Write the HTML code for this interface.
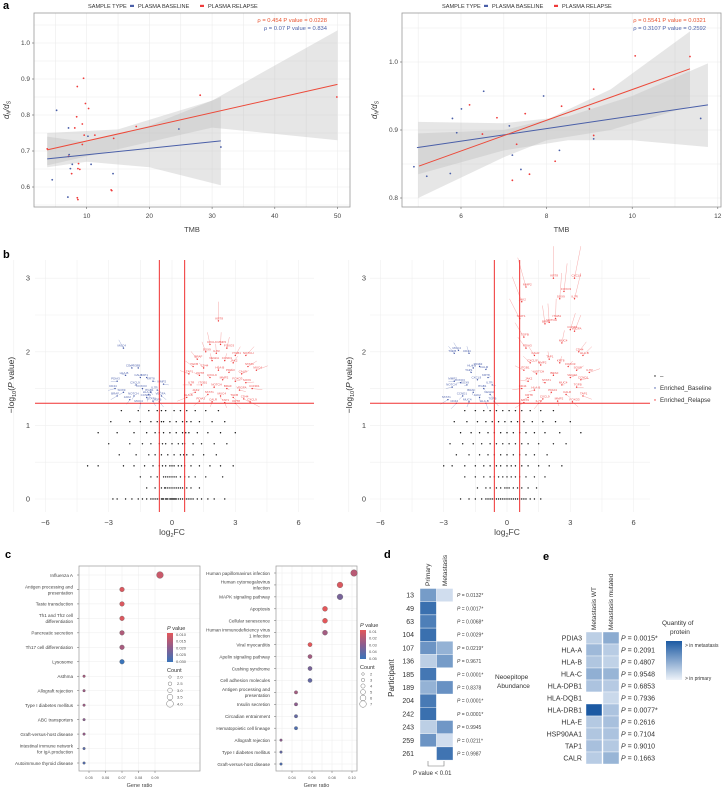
<!DOCTYPE html>
<html><head><meta charset="utf-8">
<style>
html,body{margin:0;padding:0;background:#fff;}
svg{display:block;font-family:"Liberation Sans",sans-serif;}
</style></head>
<body>
<svg id="fig" width="722" height="789" viewBox="0 0 722 789" xmlns="http://www.w3.org/2000/svg"></svg>
<script>
// ---------- DATA ----------
// panel a left
const aLRedTMB=[9.5,8.5,9.8,10.3,8.4,9.3,8.1,9.6,11.3,9.3,3.7,17.9,28.1,49.9,14.3,8.7,8.6,8.9,7.6,14,8.6,7.1,8.5,13.9];
const aLRedVal=[0.902,0.879,0.832,0.818,0.795,0.775,0.764,0.744,0.744,0.718,0.706,0.768,0.855,0.85,0.735,0.665,0.651,0.649,0.637,0.59,0.565,0.685,0.57,0.592];
const aLBlueTMB=[5.2,7.1,24.7,31.4,10.2,7.2,7.7,10.7,4.5,14.2,7.4,7.0];
const aLBlueVal=[0.813,0.764,0.761,0.711,0.741,0.69,0.663,0.663,0.62,0.637,0.651,0.572];
const aLRedLine=[[3.7,0.703],[50,0.885]];
const aLBlueLine=[[3.7,0.678],[31.4,0.728]];
const aLRedBandX=[3.7,15,30,50], aLRedBandHi=[0.75,0.76,0.84,1.035], aLRedBandLo=[0.66,0.705,0.765,0.73];
const aLBlueBandX=[3.7,10,20,31.4], aLBlueBandHi=[0.74,0.725,0.77,0.85], aLBlueBandLo=[0.655,0.67,0.655,0.605];
// panel a right
const aRRedTMB=[10.07,11.35,9.1,6.2,6.84,8.35,7.5,9.0,6.5,7.3,9.1,8.2,7.6,7.2];
const aRRedVal=[1.009,1.008,0.96,0.937,0.918,0.935,0.924,0.931,0.894,0.879,0.892,0.854,0.835,0.826];
const aRBlueTMB=[6.53,7.93,5.8,6.01,5.9,7.13,7.2,7.4,5.75,5.2,4.9,8.3,9.1,11.6];
const aRBlueVal=[0.957,0.95,0.917,0.931,0.896,0.906,0.863,0.842,0.836,0.832,0.846,0.87,0.887,0.917];
const aRRedLine=[[5.02,0.847],[11.35,0.99]];
const aRBlueLine=[[4.97,0.874],[11.77,0.937]];
const aRRedBandX=[5,7,8,9.5,11.35], aRRedBandHi=[0.895,0.9,0.915,0.96,1.045], aRRedBandLo=[0.80,0.86,0.885,0.9,0.935];
const aRBlueBandX=[5,7,8.5,10,11.77], aRBlueBandHi=[0.912,0.91,0.92,0.95,0.998], aRBlueBandLo=[0.835,0.87,0.885,0.885,0.875];
// panel b volcano
const blackRowY=[0,0.15,0.3,0.45,0.6,0.75,0.9,1.05,1.2];
const blackRowXL=[
[-2.8,-2.6,-2.2,-1.9,-1.6,-1.4,-1.2,-1.0,-0.9,-0.8,-0.7,-0.6,-0.5,-0.45,-0.4,-0.3,-0.25,-0.2,-0.1,-0.05,0,0.05,0.1,0.15,0.2,0.3,0.4,0.5,0.6,0.7,0.8,0.9,1.0,1.2,1.4,1.7,2.0,2.5],
[-1.2,-0.8,-0.5,-0.35,-0.3,-0.2,-0.1,0,0.1,0.2,0.3,0.4,0.5,0.7,0.9,1.3],
[-1.5,-1.0,-0.7,-0.4,-0.3,-0.2,-0.1,0,0.1,0.2,0.4,0.6,0.8,1.1,1.6,2.4],
[-4.0,-3.5,-2.3,-1.8,-1.3,-0.9,-0.6,-0.45,-0.3,-0.1,0,0.1,0.3,0.45,0.6,0.9,1.3,1.8,2.3,2.9],
[-2.5,-1.7,-1.1,-0.8,-0.5,-0.2,0.1,0.4,0.55,0.7,1.0,1.5,2.1],
[-3.0,-2.0,-1.4,-1.0,-0.6,-0.45,-0.3,0,0.3,0.5,0.6,1.0,1.4,2.0,2.6],
[-3.5,-2.6,-1.8,-1.2,-0.8,-0.6,-0.4,-0.1,0.2,0.5,0.65,0.8,1.2,1.7,2.3,3.0],
[-2.9,-2.0,-1.5,-1.0,-0.7,-0.5,-0.4,-0.1,0.2,0.5,0.7,0.9,1.3,1.9,2.5],
[-2.4,-1.6,-1.1,-0.7,-0.5,-0.3,0.1,0.4,0.7,1.1,1.6,2.2]];
const blackRowXR=[
[-2.2,-1.8,-1.5,-1.2,-1.0,-0.9,-0.8,-0.7,-0.6,-0.5,-0.4,-0.3,-0.2,-0.1,0,0.1,0.2,0.3,0.4,0.5,0.6,0.7,0.8,0.9,1.1,1.3,1.6],
[-1.4,-1.0,-0.8,-0.5,-0.3,-0.1,0,0.1,0.3,0.5,0.7,1.0,1.4],
[-2.0,-1.5,-1.1,-0.8,-0.6,-0.4,-0.2,0,0.2,0.4,0.6,0.9,1.3,1.8],
[-3.0,-2.6,-2.0,-1.5,-1.1,-0.8,-0.5,-0.3,0,0.2,0.4,0.7,1.0,1.5,2.0,2.6],
[-2.4,-1.8,-1.3,-0.9,-0.6,-0.3,0,0.3,0.6,0.9,1.3,1.9],
[-2.7,-2.1,-1.6,-1.2,-0.8,-0.5,-0.2,0.1,0.4,0.7,1.0,1.5,2.2,2.8],
[-2.2,-1.7,-1.3,-0.9,-0.6,-0.3,0,0.3,0.6,0.9,1.3,1.8,2.5,3.5],
[-2.5,-1.9,-1.4,-1.0,-0.7,-0.4,-0.1,0.2,0.5,0.8,1.2,1.7,2.3,3.0],
[-2.0,-1.5,-1.1,-0.8,-0.5,-0.2,0.1,0.4,0.7,1.1,1.6,2.2]];
const blueLX=[-2.3,-1.6,-1.9,-2.2,-2.6,-1.5,-1.2,-0.9,-1.7,-0.4,-1.4,-2.3,-0.7,-1.0,-1.8,-2.6,-0.5,-1.2,-2.0,-0.9,-1.5,-0.6,-2.7,-1.1];
const blueLY=[2.05,1.78,1.78,1.68,1.6,1.65,1.65,1.6,1.55,1.56,1.5,1.45,1.48,1.45,1.4,1.4,1.4,1.38,1.35,1.33,1.3,1.32,1.5,1.42];
const redLX=[2.2,1.8,2.3,2.6,1.6,2.1,3.0,3.5,1.2,1.9,2.5,2.9,3.6,4.0,1.0,1.5,2.2,2.7,3.3,0.8,1.3,1.8,2.4,3.0,3.5,0.9,1.4,2.0,2.6,3.2,3.8,1.1,1.7,2.3,2.9,3.4,0.7,1.3,1.9,2.5,3.0,3.7];
const redLY=[2.42,2.1,2.1,2.05,2.0,1.98,1.95,1.95,1.9,1.88,1.88,1.85,1.8,1.75,1.8,1.78,1.75,1.72,1.7,1.7,1.68,1.65,1.62,1.6,1.58,1.55,1.55,1.52,1.5,1.48,1.5,1.45,1.42,1.4,1.38,1.36,1.38,1.33,1.32,1.31,1.3,1.32];
const blueRX=[-2.3,-2.5,-1.8,-1.6,-1.3,-1.0,-1.7,-0.9,-1.4,-2.5,-2.2,-1.9,-0.7,-1.1,-2.6,-1.6,-0.8,-2.1,-1.3,-2.8,-1.8,-0.6,-2.4,-1.0];
const blueRY=[2.02,1.98,1.98,1.78,1.8,1.76,1.72,1.65,1.62,1.6,1.58,1.55,1.55,1.5,1.52,1.45,1.42,1.4,1.38,1.35,1.32,1.33,1.3,1.3];
const redRX=[2.2,3.2,0.9,2.7,2.5,3.2,2.3,2.0,1.8,3.2,3.0,0.7,0.6,2.6,0.8,3.4,3.6,0.9,1.3,2.0,2.5,1.1,1.6,2.9,3.3,3.9,0.8,1.4,2.2,3.0,3.5,1.0,1.8,2.6,3.3,0.7,1.3,2.1,2.8,3.6,1.0,1.7,2.4,3.1,0.8,1.5];
const redRY=[3.0,3.0,2.88,2.82,2.72,2.72,2.45,2.4,2.38,2.28,2.3,2.68,2.45,2.12,2.2,2.0,1.95,2.05,1.95,1.9,1.85,1.85,1.82,1.8,1.75,1.72,1.75,1.7,1.68,1.65,1.62,1.6,1.58,1.55,1.52,1.5,1.48,1.45,1.42,1.4,1.38,1.36,1.33,1.32,1.31,1.3];
const geneNames=["MUC4","TGFB","CD44","HLA-B","PDIA3","CALR","TAP1","KRT8","CXCL9","MMP2","FOXO3","SOX9","IL7R","ITGB1","NOTCH","BRAF","VEGFA","CCND1","JAK2","STAT1"];
// panel c
const cLTerms=["Influenza A","Antigen processing and|presentation","Taste transduction","Th1 and Th2 cell|differentiation","Pancreatic secretion","Th17 cell differentiation","Lysosome","Asthma","Allograft rejection","Type I diabetes mellitus","ABC transporters","Graft-versus-host disease","Intestinal immune network|for IgA production","Autoimmune thyroid disease"];
const cLRatio=[0.093,0.070,0.070,0.070,0.070,0.070,0.070,0.047,0.047,0.047,0.047,0.047,0.047,0.047];
const cLCount=[4,3,3,3,3,3,3,2,2,2,2,2,2,2];
const cLP=[0.013,0.011,0.011,0.011,0.016,0.017,0.030,0.017,0.018,0.018,0.02,0.019,0.026,0.027];
const cRTerms=["Human papillomavirus infection","Human cytomegalovirus|infection","MAPK signaling pathway","Apoptosis","Cellular senescence","Human immunodeficiency virus|1 infection","Viral myocarditis","Apelin signaling pathway","Cushing syndrome","Cell adhesion molecules","Antigen processing and|presentation","Insulin secretion","Circadian entrainment","Hematopoietic cell lineage","Allograft rejection","Type I diabetes mellitus","Graft-versus-host disease"];
const cRRatio=[0.102,0.088,0.088,0.073,0.073,0.073,0.058,0.058,0.058,0.058,0.044,0.044,0.044,0.044,0.029,0.029,0.029];
const cRCount=[7,6,6,5,5,5,4,4,4,4,3,3,3,3,2,2,2];
const cRP=[0.02,0.012,0.035,0.01,0.01,0.025,0.01,0.025,0.035,0.04,0.025,0.03,0.04,0.045,0.03,0.04,0.045];
// panel d
const dParticipants=["13","49","63","104","107","136","185","189","204","242","243","259","261"];
const dPrimary=[0.55,0.85,0.75,0.85,0.6,0.2,0.8,0.4,0.78,0.85,0.2,0.6,0];
const dMetastasis=[0.1,0,0,0,0.4,0.55,0,0.62,0,0,0.58,0.1,0.82];
const dPvals=["P = 0.0132*","P = 0.0017*","P = 0.0068*","P = 0.0029*","P = 0.0219*","P = 0.9671","P = 0.0001*","P = 0.8378","P = 0.0001*","P = 0.0001*","P = 0.9945","P = 0.0211*","P = 0.9987"];
// panel e
const eProteins=["PDIA3","HLA-A","HLA-B","HLA-C","HLA-DPB1","HLA-DQB1","HLA-DRB1","HLA-E","HSP90AA1","TAP1","CALR"];
const eWT=[0.2,0.35,0.26,0.42,0.28,0,1.0,0.24,0.26,0.3,0.22];
const eMut=[0.44,0.22,0.18,0.38,0.23,0.13,0.28,0.3,0.28,0.24,0.38];
const ePvals=["0.0015*","0.2091","0.4807","0.9548","0.6853","0.7936","0.0077*","0.2616","0.7104","0.9010","0.1663"];

// ---------- HELPERS ----------
const NS="http://www.w3.org/2000/svg";
const fig=document.getElementById('fig');
function mk(tag,attrs,parent){const e=document.createElementNS(NS,tag);for(const k in attrs)e.setAttribute(k,attrs[k]);(parent||fig).appendChild(e);return e;}
function txt(s,x,y,size,attrs,parent){const a=Object.assign({x:x,y:y,'font-size':size,fill:'#333'},attrs||{});const t=mk('text',a,parent);t.textContent=s;return t;}
function grp(){return mk('g',{});}
function lerpCol(c1,c2,t){const a=[1,3,5].map(i=>parseInt(c1.substr(i,2),16)),b=[1,3,5].map(i=>parseInt(c2.substr(i,2),16));return 'rgb('+a.map((v,i)=>Math.round(v+(b[i]-v)*t)).join(',')+')';}
function pcol(t){t=Math.max(0,Math.min(1,t));return t<0.5?lerpCol('#e3575a','#8d5d8e',t*2):lerpCol('#8d5d8e','#3a74ba',(t-0.5)*2);}
function blue(t){return t<=0?'#ffffff':lerpCol('#e4ecf6','#1c5aa3',t);}

// panel labels
[['a',3,9],['b',3,258],['c',5,558],['d',384,558],['e',543,560]].forEach(p=>{
 const t=txt(p[0],p[1],p[2],11,{'font-weight':'bold',fill:'#000'});
 
 
});

// ---------- PANEL A ----------
function scatterPanel(cfg){
 const g=grp();
 
 
 const {x0,x1,y0,y1,xs,ys}=cfg;
 cfg.xgrid.forEach(v=>{const l=mk('line',{x1:xs(v),x2:xs(v),y1:y0,y2:y1,stroke:'#ececec','stroke-width':0.6},g);});
 cfg.ygrid.forEach(v=>{const l=mk('line',{x1:x0,x2:x1,y1:ys(v),y2:ys(v),stroke:'#ececec','stroke-width':0.6},g);});
 function band(X,Hi,Lo,nm){let d='M'+X.map((x,i)=>xs(x)+','+ys(Hi[i])).join('L');for(let i=X.length-1;i>=0;i--)d+='L'+xs(X[i])+','+ys(Lo[i]);d+='Z';const p=mk('path',{d:d,fill:'#bdbdbd','fill-opacity':0.38},g);}
 band(cfg.rbx,cfg.rbh,cfg.rbl,'relapse-confidence-band');
 band(cfg.bbx,cfg.bbh,cfg.bbl,'baseline-confidence-band');
 cfg.bt.forEach((t,i)=>{const c=mk('circle',{cx:xs(t),cy:ys(cfg.bv[i]),r:0.9,fill:'#4a5fa8'},g);});
 cfg.rt.forEach((t,i)=>{const c=mk('circle',{cx:xs(t),cy:ys(cfg.rv[i]),r:0.9,fill:'#ef3b3b'},g);});
 const bl=mk('line',{x1:xs(cfg.bl[0][0]),y1:ys(cfg.bl[0][1]),x2:xs(cfg.bl[1][0]),y2:ys(cfg.bl[1][1]),stroke:'#4a5fa8','stroke-width':1},g);
 
 const rl=mk('line',{x1:xs(cfg.rl[0][0]),y1:ys(cfg.rl[0][1]),x2:xs(cfg.rl[1][0]),y2:ys(cfg.rl[1][1]),stroke:'#ec4a3a','stroke-width':1},g);
 
 const box=mk('rect',{x:x0,y:y0,width:x1-x0,height:y1-y0,fill:'none',stroke:'#999','stroke-width':0.8},g);
 
 cfg.xticks.forEach((v,i)=>{mk('line',{x1:xs(v),x2:xs(v),y1:y1,y2:y1+2,stroke:'#666','stroke-width':0.6},g);const t=txt(cfg.xlab[i],xs(v),y1+11,6.5,{'text-anchor':'middle',fill:'#444'},g);});
 cfg.yticks.forEach((v,i)=>{mk('line',{x1:x0-2,x2:x0,y1:ys(v),y2:ys(v),stroke:'#666','stroke-width':0.6},g);const t=txt(cfg.ylab[i],x0-4,ys(v)+2.2,6.5,{'text-anchor':'end',fill:'#444'},g);});
 const xt=txt('TMB',(x0+x1)/2,y1+25,7.5,{'text-anchor':'middle',fill:'#444'},g);
 
 const yt=mk('text',{x:0,y:0,'font-size':8,fill:'#333','font-style':'italic','text-anchor':'middle',transform:'translate('+cfg.ylx+','+(y0+y1)/2+') rotate(-90)'},g);
 yt.innerHTML='d<tspan font-size="5" dy="1.5">N</tspan><tspan dy="-1.5">/d</tspan><tspan font-size="5" dy="1.5">S</tspan>';
 
 // legend
 const lg=mk('g',{},g);
 
 txt('SAMPLE TYPE',cfg.lx,8,5.6,{fill:'#333'},lg);
 mk('rect',{x:cfg.lx+42,y:4.8,width:4,height:2.2,fill:'#4a5fa8'},lg);
 const e1=txt('PLASMA BASELINE',cfg.lx+50,8,5.6,{fill:'#333'},lg);
 
 mk('rect',{x:cfg.lx+112,y:4.8,width:4,height:2.2,fill:'#ef3b3b'},lg);
 const e2=txt('PLASMA RELAPSE',cfg.lx+120,8,5.6,{fill:'#333'},lg);
 
 const s1=txt(cfg.s1,cfg.sx,22,5.8,{'text-anchor':'end',fill:'#e8532f'},g);
 
 const s2=txt(cfg.s2,cfg.sx,30,5.8,{'text-anchor':'end',fill:'#4a5fa8'},g);
 
}
scatterPanel({name:'panel-a-left-scatter',x0:34,x1:350,y0:13,y1:207,
 xs:t=>24+t*6.27, ys:v=>187-(v-0.6)*360,
 xgrid:[5,10,15,20,25,30,35,40,45,50],ygrid:[0.55,0.6,0.65,0.7,0.75,0.8,0.85,0.9,0.95,1.0,1.05],
 xticks:[10,20,30,40,50],xlab:['10','20','30','40','50'],yticks:[0.6,0.7,0.8,0.9,1.0],ylab:['0.6','0.7','0.8','0.9','1.0'],
 rt:aLRedTMB,rv:aLRedVal,bt:aLBlueTMB,bv:aLBlueVal,rl:aLRedLine,bl:aLBlueLine,
 rbx:aLRedBandX,rbh:aLRedBandHi,rbl:aLRedBandLo,bbx:aLBlueBandX,bbh:aLBlueBandHi,bbl:aLBlueBandLo,
 ylx:9,lx:88,sx:327,s1:'ρ = 0.454 P value = 0.0228',s2:'ρ = 0.07 P value = 0.834'});
scatterPanel({name:'panel-a-right-scatter',x0:402,x1:721,y0:13,y1:207,
 xs:t=>461+(t-6)*42.8, ys:v=>62+(1-v)*680,
 xgrid:[5,6,7,8,9,10,11,12],ygrid:[0.8,0.85,0.9,0.95,1.0,1.05],
 xticks:[6,8,10,12],xlab:['6','8','10','12'],yticks:[0.8,0.9,1.0],ylab:['0.8','0.9','1.0'],
 rt:aRRedTMB,rv:aRRedVal,bt:aRBlueTMB,bv:aRBlueVal,rl:aRRedLine,bl:aRBlueLine,
 rbx:aRRedBandX,rbh:aRRedBandHi,rbl:aRRedBandLo,bbx:aRBlueBandX,bbh:aRBlueBandHi,bbl:aRBlueBandLo,
 ylx:377,lx:442,sx:706,s1:'ρ = 0.5541 P value = 0.0321',s2:'ρ = 0.3107 P value = 0.2592'});

// ---------- PANEL B ----------
function volcano(cfg){
 const g=grp();
 
 
 const xs=v=>cfg.xc+v*21.1, ys=v=>499-v*73.6;
 for(let v=-7.5;v<=6.5;v+=1.5){const l=mk('line',{x1:xs(v),x2:xs(v),y1:260,y2:512,stroke:'#efefef','stroke-width':0.6},g);}
 for(let v=0;v<=3;v+=0.5){const l=mk('line',{x1:cfg.gx0,x2:cfg.gx1,y1:ys(v),y2:ys(v),stroke:'#efefef','stroke-width':0.6},g);}
 blackRowY.forEach((yv,ri)=>{cfg.black[ri].forEach(xv=>{const c=mk('circle',{cx:xs(xv),cy:ys(yv),r:0.7,fill:'#111'},g);});});
 const cxB=xs(-1.4),cyB=ys(1.6),cxR=xs(2.2),cyR=ys(1.55);
 cfg.bx.forEach((xv,i)=>{const px=xs(xv),py=ys(cfg.by[i]);
  mk('line',{x1:px,y1:py,x2:px+(px-cxB)*0.25,y2:py+(py-cyB)*0.25,stroke:'#6b7fbf','stroke-width':0.3},g);
  const c=mk('circle',{cx:px,cy:py,r:0.7,fill:'#3f55a5'},g);
  const t=txt(geneNames[i%geneNames.length],px-6,py-1.5,3,{fill:'#5568b0'},g);});
 cfg.rx.forEach((xv,i)=>{const px=xs(xv),py=ys(cfg.ry[i]);
  mk('line',{x1:px,y1:py,x2:px+(px-cxR)*0.3,y2:py+(py-cyR)*0.3,stroke:'#f07070','stroke-width':0.3},g);
  const c=mk('circle',{cx:px,cy:py,r:0.7,fill:'#ee3030'},g);
  const t=txt(geneNames[(i+7)%geneNames.length],px-3,py-1.5,3,{fill:'#ee5050'},g);});
 [-0.6,0.6].forEach(v=>{const l=mk('line',{x1:xs(v),x2:xs(v),y1:260,y2:512,stroke:'#f03030','stroke-width':1},g);});
 const h=mk('line',{x1:cfg.gx0,x2:cfg.gx1,y1:ys(1.301),y2:ys(1.301),stroke:'#f03030','stroke-width':1},g);
 
 [-6,-3,0,3,6].forEach(v=>{const t=txt(String(v).replace('-','−'),xs(v),525,7.5,{'text-anchor':'middle',fill:'#444'},g);});
 [0,1,2,3].forEach(v=>{const t=txt(String(v),cfg.ytx,ys(v)+2.5,7.5,{'text-anchor':'middle',fill:'#444'},g);});
 const xt=mk('text',{x:xs(0),y:535,'font-size':8.5,fill:'#444','text-anchor':'middle'},g);
 xt.innerHTML='log<tspan font-size="5.5" dy="2">2</tspan><tspan dy="-2">FC</tspan>';
 
 const yt=mk('text',{x:0,y:0,'font-size':8.5,fill:'#333','text-anchor':'middle',transform:'translate('+cfg.ylx+',385) rotate(-90)'},g);
 yt.innerHTML='−log<tspan font-size="5.5" dy="2">10</tspan><tspan dy="-2">(</tspan><tspan font-style="italic">P</tspan> value)';
 
}
volcano({name:'panel-b-left-volcano',xc:172,gx0:35,gx1:314,black:blackRowXL,bx:blueLX,by:blueLY,rx:redLX,ry:redLY,ytx:28,ylx:14});
volcano({name:'panel-b-right-volcano',xc:507,gx0:370,gx1:650,black:blackRowXR,bx:blueRX,by:blueRY,rx:redRX,ry:redRY,ytx:364,ylx:352});
const vleg=grp();


[['–','#111',378,'legend-entry-neutral'],['Enriched_Baseline','#3f55a5',390,'legend-entry-baseline'],['Enriched_Relapse','#ee3030',402,'legend-entry-relapse']].forEach(e=>{
 mk('circle',{cx:655,cy:e[2]-2,r:0.7,fill:e[1]},vleg);
 const t=txt(e[0],660,e[2],6.2,{fill:'#333'},vleg);
 
 
});

// ---------- PANEL C ----------
function dotplot(cfg){
 const g=grp();
 
 
 const n=cfg.terms.length;
 const xs=v=>cfg.x0+(v-cfg.xmin)/(cfg.xmax-cfg.xmin)*(cfg.x1-cfg.x0);
 const ys=i=>cfg.ry0+i*(cfg.ry1-cfg.ry0)/(n-1);
 cfg.xgrid.forEach(v=>{mk('line',{x1:xs(v),x2:xs(v),y1:566,y2:771,stroke:'#ececec','stroke-width':0.5},g);});
 cfg.terms.forEach((t,i)=>{mk('line',{x1:cfg.bx0,x2:cfg.bx1,y1:ys(i),y2:ys(i),stroke:'#ececec','stroke-width':0.5},g);});
 const box=mk('rect',{x:cfg.bx0,y:566,width:cfg.bx1-cfg.bx0,height:205,fill:'none',stroke:'#999','stroke-width':0.7},g);
 
 cfg.terms.forEach((term,i)=>{
  const parts=term.split('|');
  parts.forEach((p,k)=>{const tt=txt(p,cfg.bx0-6,ys(i)+1.8+(k-(parts.length-1)/2)*6,4.6,{'text-anchor':'end',fill:'#444'},g);});
  mk('line',{x1:cfg.bx0-2,x2:cfg.bx0,y1:ys(i),y2:ys(i),stroke:'#666','stroke-width':0.5},g);
  const c=mk('circle',{cx:xs(cfg.ratio[i]),cy:ys(i),r:1.3+(cfg.count[i]-2)*cfg.rk,fill:pcol((cfg.p[i]-cfg.pmin)/(cfg.pmax-cfg.pmin)),stroke:'#555','stroke-width':0.3},g);
  
 });
 cfg.xticks.forEach((v,i)=>{mk('line',{x1:xs(v),x2:xs(v),y1:771,y2:773,stroke:'#666','stroke-width':0.5},g);const t=txt(cfg.xlab[i],xs(v),779,3.8,{'text-anchor':'middle',fill:'#555'},g);});
 const xt=txt('Gene ratio',(cfg.bx0+cfg.bx1)/2,787,5.5,{'text-anchor':'middle',fill:'#444'},g);
 
 const lg=mk('g',{},g);
 
 const pt=mk('text',{x:cfg.lx,y:cfg.ly,'font-size':5.5,fill:'#333'},lg);pt.innerHTML='<tspan font-style="italic">P</tspan> value';
 const gid='grad'+cfg.name;
 const defs=mk('defs',{},lg);const lgd=mk('linearGradient',{id:gid,x1:0,y1:0,x2:0,y2:1},defs);
 mk('stop',{offset:'0','stop-color':'#e3575a'},lgd);mk('stop',{offset:'0.5','stop-color':'#8d5d8e'},lgd);mk('stop',{offset:'1','stop-color':'#3a74ba'},lgd);
 mk('rect',{x:cfg.lx,y:cfg.ly+3,width:6,height:29,fill:'url(#'+gid+')'},lg);
 cfg.plabs.forEach((s,i)=>txt(s,cfg.lx+9,cfg.ly+6+i*29/(cfg.plabs.length-1)*0.93,4,{fill:'#555'},lg));
 txt('Count',cfg.lx,cfg.ly+42,5.5,{fill:'#333'},lg);
 cfg.clabs.forEach((s,i)=>{const cy=cfg.ly+47+i*cfg.cstep;mk('circle',{cx:cfg.lx+3,cy:cy,r:1.3+(parseFloat(s)-2)*cfg.rk,fill:'none',stroke:'#555','stroke-width':0.4},lg);txt(s,cfg.lx+10,cy+1.5,4,{fill:'#555'},lg);});
}
dotplot({name:'panel-c-left-dotplot',terms:cLTerms,ratio:cLRatio,count:cLCount,p:cLP,pmin:0.010,pmax:0.030,
 bx0:79,bx1:200,x0:89,x1:155,xmin:0.05,xmax:0.09,ry0:575,ry1:763,rk:1.05,
 xgrid:[0.05,0.06,0.07,0.08,0.09],xticks:[0.05,0.06,0.07,0.08,0.09],xlab:['0.05','0.06','0.07','0.08','0.09'],
 lx:167,ly:630,plabs:['0.010','0.015','0.020','0.025','0.030'],clabs:['2.0','2.5','3.0','3.5','4.0'],cstep:6.7});
dotplot({name:'panel-c-right-dotplot',terms:cRTerms,ratio:cRRatio,count:cRCount,p:cRP,pmin:0.01,pmax:0.05,
 bx0:276,bx1:357,x0:292,x1:352,xmin:0.04,xmax:0.10,ry0:573,ry1:764,rk:0.4,
 xgrid:[0.03,0.04,0.05,0.06,0.07,0.08,0.09,0.10],xticks:[0.04,0.06,0.08,0.10],xlab:['0.04','0.06','0.08','0.10'],
 lx:360,ly:627,plabs:['0.01','0.02','0.03','0.04','0.05'],clabs:['2','3','4','5','6','7'],cstep:6});

// ---------- PANEL D ----------
const gd=grp();


const dY0=588.5,dH=13.2;
dParticipants.forEach((p,i)=>{
 const y=dY0+i*dH;
 const r1=mk('rect',{x:420,y:y,width:16.5,height:dH,fill:blue(dPrimary[i]),stroke:'#fff','stroke-width':0.4},gd);
 
 const r2=mk('rect',{x:436.5,y:y,width:16.5,height:dH,fill:blue(dMetastasis[i]),stroke:'#fff','stroke-width':0.4},gd);
 
 const t=txt(p,414,y+dH/2+2.5,7,{'text-anchor':'end',fill:'#333'},gd);
 
 const pv=mk('text',{x:457,y:y+dH/2+2,'font-size':5,fill:'#444'},gd);
 pv.innerHTML='<tspan font-style="italic">P</tspan>'+dPvals[i].slice(1);
 
});
[['Primary',430],['Metastasis',447]].forEach(c=>{const t=txt(c[0],0,0,6.5,{transform:'translate('+c[1]+',586) rotate(-90)',fill:'#333'},gd);});
const part=txt('Participant',0,0,8,{transform:'translate(394,678) rotate(-90)','text-anchor':'middle',fill:'#333'},gd);

const neo1=txt('Neoepitope',495,679,6.5,{fill:'#333'},gd);

txt('Abundance',497,688,6.5,{fill:'#333'},gd);
mk('path',{d:'M428,761 V766 H444 V761',fill:'none',stroke:'#777','stroke-width':0.6},gd);
const pl=txt('P value < 0.01',413,775,6,{fill:'#333'},gd);


// ---------- PANEL E ----------
const ge=grp();


const eY0=632,eH=12;
eProteins.forEach((p,i)=>{
 const y=eY0+i*eH;
 const r1=mk('rect',{x:586,y:y,width:16,height:eH,fill:blue(eWT[i]),stroke:'#fff','stroke-width':0.4},ge);
 
 const r2=mk('rect',{x:603,y:y,width:16,height:eH,fill:blue(eMut[i]),stroke:'#fff','stroke-width':0.4},ge);
 
 const t=txt(p,582,y+eH/2+2.5,7,{'text-anchor':'end',fill:'#333'},ge);
 
 const pv=mk('text',{x:621,y:y+eH/2+2.5,'font-size':7,fill:'#333'},ge);
 pv.innerHTML='<tspan font-style="italic">P</tspan> = '+ePvals[i];
 
});
[['Metastasis WT',596],['Metastasis mutated',613]].forEach(c=>{const t=txt(c[0],0,0,6.5,{transform:'translate('+c[1]+',630) rotate(-90)',fill:'#333'},ge);});
const q1=txt('Quantity of',662,625,6.5,{fill:'#333'},ge);

txt('protein',670,634,6.5,{fill:'#333'},ge);
const defsE=mk('defs',{},ge);const lgE=mk('linearGradient',{id:'egrad',x1:0,y1:0,x2:0,y2:1},defsE);
mk('stop',{offset:'0','stop-color':'#1c5aa3'},lgE);mk('stop',{offset:'1','stop-color':'#eef3f9'},lgE);
const eb=mk('rect',{x:666,y:641,width:16,height:39,fill:'url(#egrad)'},ge);

txt('> in metastasis',685,647,5,{fill:'#333'},ge);
txt('> in primary',685,680,5,{fill:'#333'},ge);
</script>
</body></html>
